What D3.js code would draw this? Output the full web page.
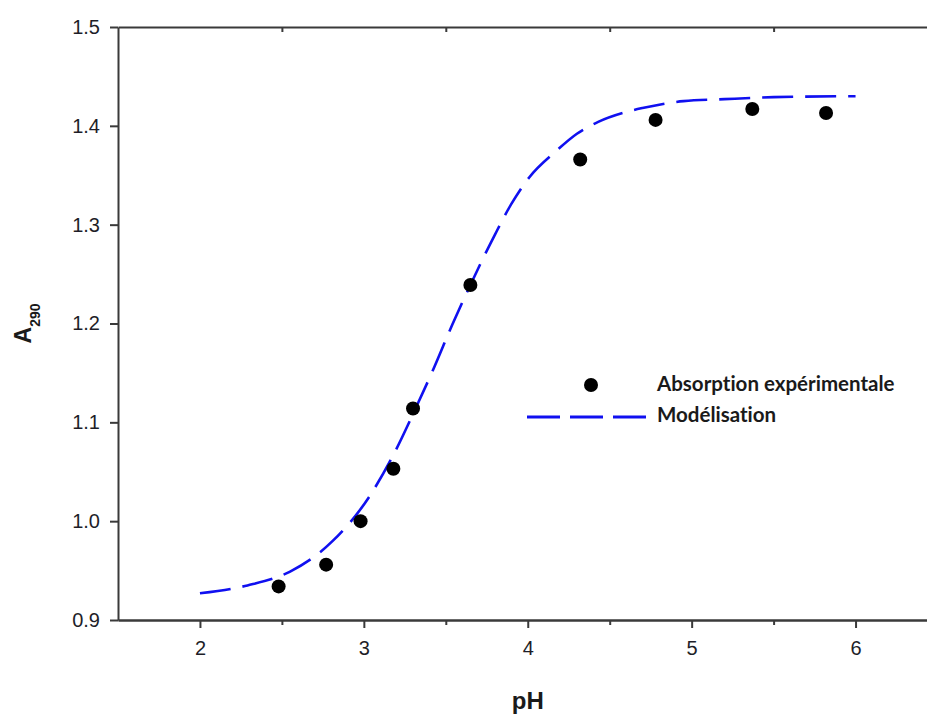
<!DOCTYPE html>
<html>
<head>
<meta charset="utf-8">
<script src="https://cdn.jsdelivr.net/npm/d3@7/dist/d3.min.js"></script>
<style>
  html, body { margin: 0; padding: 0; background: #fff; }
  svg { display: block; }
</style>
</head>
<body>
<svg id="chart" width="927" height="716"></svg>
<script>
// Measured absorbance at 290 nm versus pH
const expPH = [2.48, 2.77, 2.98, 3.18, 3.30, 3.65, 4.32, 4.78, 5.37, 5.82];
const expA  = [0.934, 0.956, 1.000, 1.053, 1.114, 1.239, 1.366, 1.406, 1.417, 1.413];

// Fitted model curve (sampled)
const modelPH = [2.00, 2.29, 2.55, 2.81, 3.03, 3.18, 3.31, 3.43, 3.54, 3.65, 3.80, 3.90, 4.01, 4.17, 4.30, 4.43, 4.60, 4.70, 4.95, 5.20, 5.50, 6.00];
const modelA  = [0.927, 0.935, 0.949, 0.980, 1.024, 1.067, 1.112, 1.156, 1.199, 1.239, 1.290, 1.321, 1.348, 1.374, 1.392, 1.404, 1.414, 1.418, 1.425, 1.427, 1.429, 1.430];

const xMajorTicks = [2, 3, 4, 5, 6];
const xMinorTicks = [2.5, 3.5, 4.5, 5.5];
const yTicks = [0.9, 1.0, 1.1, 1.2, 1.3, 1.4, 1.5];

const seriesNames = ["Absorption expérimentale", "Modélisation"];

const svg = d3.select("#chart");
const x = d3.scaleLinear().domain([1.5, 6.5]).range([118, 118 + 5 * 163.9]);
const y = d3.scaleLinear().domain([0.9, 1.5]).range([620, 27]);

const axisColor = "#3a3a3a";
const tickFont = "'Liberation Sans', Arial, sans-serif";

function styleAxis(g) {
  g.select(".domain").attr("stroke", axisColor).attr("stroke-width", 2);
  g.selectAll(".tick line").attr("stroke", axisColor).attr("stroke-width", 2);
  g.selectAll(".tick text").attr("fill", "#1e1e28").attr("font-family", tickFont).attr("font-size", 20);
}

// Bottom axis: major ticks with labels
svg.append("g")
  .attr("transform", `translate(0,${y(0.9)})`)
  .call(d3.axisBottom(x).tickValues(xMajorTicks).tickSize(8).tickSizeOuter(0).tickPadding(13).tickFormat(d3.format("d")))
  .call(styleAxis);

// Bottom axis: minor ticks
svg.append("g")
  .attr("transform", `translate(0,${y(0.9)})`)
  .call(d3.axisBottom(x).tickValues(xMinorTicks).tickSize(5).tickSizeOuter(0).tickFormat(""))
  .call(styleAxis);

// Top frame line with inward ticks
svg.append("g")
  .attr("transform", `translate(0,${y(1.5)})`)
  .call(d3.axisTop(x).tickValues(xMinorTicks).tickSize(-5).tickSizeOuter(0).tickFormat(""))
  .call(styleAxis);

// Left axis
svg.append("g")
  .attr("transform", `translate(${x(1.5)},0)`)
  .call(d3.axisLeft(y).tickValues(yTicks).tickSize(8).tickSizeOuter(0).tickPadding(10).tickFormat(d3.format(".1f")))
  .call(styleAxis);

// Model curve
const line = d3.line()
  .x((d, i) => x(modelPH[i]))
  .y((d, i) => y(modelA[i]))
  .curve(d3.curveMonotoneX);

svg.append("path")
  .datum(modelA)
  .attr("d", line)
  .attr("fill", "none")
  .attr("stroke", "#1010f0")
  .attr("stroke-width", 2.6)
  .attr("stroke-dasharray", "31,12");

// Experimental points
svg.append("g")
  .selectAll("circle")
  .data(expA)
  .join("circle")
  .attr("cx", (d, i) => x(expPH[i]))
  .attr("cy", d => y(d))
  .attr("r", 7)
  .attr("fill", "#000");

// Legend
const legendFont = "Lato, 'Open Sans', sans-serif";
const legend = svg.append("g");
legend.append("circle").attr("cx", 591).attr("cy", 385).attr("r", 7).attr("fill", "#000");
legend.append("line")
  .attr("x1", 527).attr("x2", 646).attr("y1", 417).attr("y2", 417)
  .attr("stroke", "#1010f0").attr("stroke-width", 3).attr("stroke-dasharray", "33,10");
legend.selectAll("text")
  .data(seriesNames)
  .join("text")
  .attr("x", 657)
  .attr("y", (d, i) => 391 + i * 31)
  .attr("font-family", legendFont)
  .attr("font-weight", "bold")
  .attr("font-size", 20.5)
  .style("font-variant-ligatures", "none")
  .attr("fill", "#1a1a1a")
  .text(d => d);

// Axis titles
svg.append("text")
  .attr("x", x(4))
  .attr("y", 709)
  .attr("text-anchor", "middle")
  .attr("font-family", tickFont)
  .attr("font-weight", "bold")
  .attr("font-size", 24)
  .attr("fill", "#1a1a1a")
  .text("pH");

const yTitle = svg.append("text")
  .attr("transform", `translate(31,${(y(0.9) + y(1.5)) / 2}) rotate(-90)`)
  .attr("text-anchor", "middle")
  .attr("font-family", tickFont)
  .attr("font-weight", "bold")
  .attr("fill", "#1a1a1a");
yTitle.append("tspan").attr("font-size", 23).text("A");
yTitle.append("tspan").attr("font-size", 14).attr("dy", 9).text("290");
</script>
</body>
</html>
